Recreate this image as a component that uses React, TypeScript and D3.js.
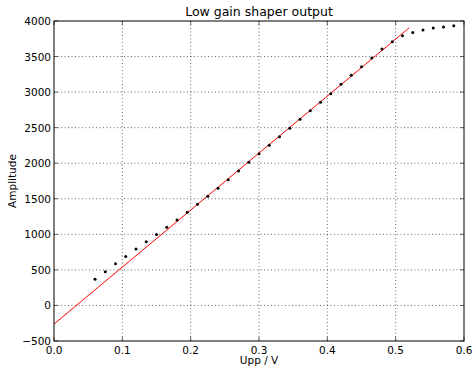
import React from "react";
import * as d3 from "d3";

const upp = [0.06,0.075,0.09,0.105,0.12,0.135,0.15,0.165,0.18,0.195,0.21,0.225,0.24,0.255,0.27,0.285,0.3,0.315,0.33,0.345,0.36,0.375,0.39,0.405,0.42,0.435,0.45,0.465,0.48,0.495,0.51,0.525,0.54,0.555,0.57,0.585];
const amplitude = [367,474,587,690,793,894,998,1098,1201,1309,1422,1534,1647,1768,1890,2012,2134,2252,2373,2491,2617,2738,2859,2978,3110,3236,3358,3480,3606,3709,3793,3840,3873,3902,3916,3934];
const fitX = [0, 0.52];
const fitY = [-262, 3906];
const xTicks = [0,0.1,0.2,0.3,0.4,0.5,0.6];
const yTicks = [-500,0,500,1000,1500,2000,2500,3000,3500,4000];

export default function App() {
  const W = 476, H = 369;
  const L = 54, R = 464, T = 21, B = 341;
  const x = d3.scaleLinear().domain([0, 0.6]).range([L, R]);
  const y = d3.scaleLinear().domain([-500, 4000]).range([B, T]);
  const font = "DejaVu Sans, sans-serif";
  const line = d3.line<number>().x((d, i) => x(fitX[i])).y((d) => y(d));
  const fmtY = (v: number) => (v < 0 ? "\u2212" + Math.abs(v) : String(v));
  return (
    <svg width={W} height={H} style={{ position: "absolute", left: 0, top: 0, background: "#fff" }}>
      <rect x={0} y={0} width={W} height={H} fill="#fff" />
      <g stroke="#000" strokeWidth={0.6} strokeDasharray="1,2.5">
        {xTicks.slice(1, -1).map((t) => (
          <line key={"gx" + t} x1={x(t)} x2={x(t)} y1={T} y2={B} />
        ))}
        {yTicks.slice(1, -1).map((t) => (
          <line key={"gy" + t} x1={L} x2={R} y1={y(t)} y2={y(t)} />
        ))}
      </g>
      <path d={line(fitY) || ""} fill="none" stroke="#ff0000" strokeWidth={1} />
      <g fill="#000">
        {upp.map((u, i) => (
          <circle key={i} cx={x(u)} cy={y(amplitude[i])} r={1.5} />
        ))}
      </g>
      <g stroke="#000" strokeWidth={0.6}>
        {xTicks.map((t) => (
          <g key={"tx" + t}>
            <line x1={x(t)} x2={x(t)} y1={B} y2={B - 4} />
            <line x1={x(t)} x2={x(t)} y1={T} y2={T + 4} />
          </g>
        ))}
        {yTicks.map((t) => (
          <g key={"ty" + t}>
            <line x1={L} x2={L + 4} y1={y(t)} y2={y(t)} />
            <line x1={R} x2={R - 4} y1={y(t)} y2={y(t)} />
          </g>
        ))}
      </g>
      <rect x={L} y={T} width={R - L} height={B - T} fill="none" stroke="#000" strokeWidth={1} />
      <g fontFamily={font} fontSize={10.5} fill="#000">
        {xTicks.map((t) => (
          <text key={"lx" + t} x={x(t)} y={B + 13} textAnchor="middle">{t.toFixed(1)}</text>
        ))}
        {yTicks.map((t) => (
          <text key={"ly" + t} x={L - 3} y={y(t) + 4} textAnchor="end">{fmtY(t)}</text>
        ))}
      </g>
      <text x={(L + R) / 2} y={16} textAnchor="middle" fontFamily={font} fontSize={12.5}>Low gain shaper output</text>
      <text x={(L + R) / 2} y={364} textAnchor="middle" fontFamily={font} fontSize={10.5}>Upp / V</text>
      <text transform={`translate(16,${(T + B) / 2}) rotate(-90)`} textAnchor="middle" fontFamily={font} fontSize={10.5}>Amplitude</text>
    </svg>
  );
}
